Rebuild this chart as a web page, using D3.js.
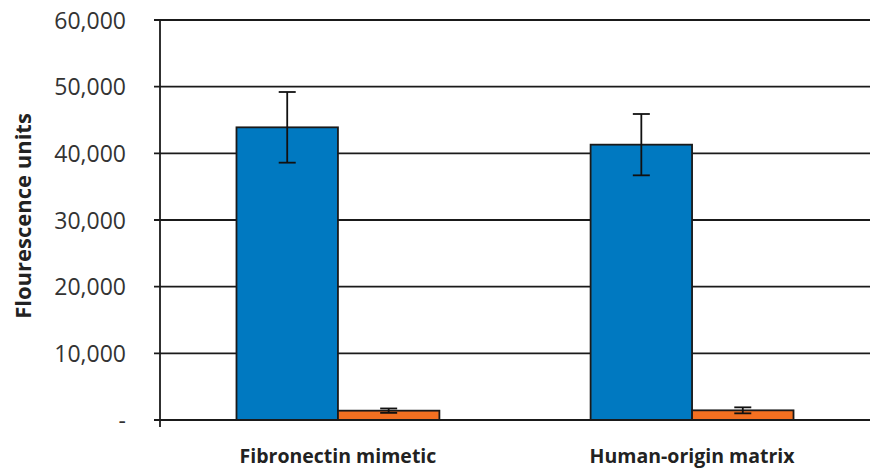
<!DOCTYPE html>
<html>
<head>
<meta charset="utf-8">
<script src="https://cdn.jsdelivr.net/npm/d3@7"></script>
<style>
  body { margin: 0; background: #fff; }
  svg { display: block; }
  svg text { font-family: "Open Sans", sans-serif; }
</style>
</head>
<body>
<div id="chart"></div>
<script>
const categories = ["Fibronectin mimetic", "Human-origin matrix"];
const series = ["blue", "orange"];
const values = {
  blue: [43900, 41300],
  orange: [1400, 1450]
};
const errors = {
  blue: [5300, 4600],
  orange: [330, 450]
};
const yTicks = [0, 10000, 20000, 30000, 40000, 50000, 60000];

const width = 874, height = 468;
const margin = { top: 20, right: 4, bottom: 48, left: 160 };
const colors = { blue: "#0079c1", orange: "#f37021" };

const svg = d3.select("#chart").append("svg")
  .attr("width", width)
  .attr("height", height);

const y = d3.scaleLinear()
  .domain([0, 60000])
  .range([height - margin.bottom, margin.top]);

const x = d3.scaleBand()
  .domain(categories)
  .range([margin.left, 870])
  .paddingInner(0.427)
  .paddingOuter(0.216);

const xs = d3.scaleBand()
  .domain(series)
  .range([0, x.bandwidth()]);

// gridlines
svg.append("g")
  .selectAll("line")
  .data(yTicks)
  .join("line")
  .attr("x1", margin.left - 6)
  .attr("x2", width - 4)
  .attr("y1", d => y(d))
  .attr("y2", d => y(d))
  .attr("stroke", "#1a1a1a")
  .attr("stroke-width", 1.8);

// y axis
const yAxis = svg.append("g")
  .attr("transform", `translate(${margin.left},0)`)
  .call(d3.axisLeft(y).tickValues(yTicks).tickSize(0).tickPadding(34)
    .tickFormat(d => d === 0 ? "-" : d3.format(",")(d)));
yAxis.attr("font-family", null);
yAxis.select(".domain").remove();
yAxis.selectAll("text")
  .attr("font-size", 23)
  .attr("fill", "#333")
  .attr("dy", "0.35em");

svg.append("line")
  .attr("x1", margin.left).attr("x2", margin.left)
  .attr("y1", margin.top).attr("y2", y(0) + 7)
  .attr("stroke", "#1a1a1a")
  .attr("stroke-width", 1.8);

svg.append("text")
  .attr("transform", `translate(31,${(y(0) + y(60000)) / 2 - 4}) rotate(-90)`)
  .attr("text-anchor", "middle")
  .attr("font-size", 22)
  .attr("font-weight", "bold")
  .attr("fill", "#222")
  .text("Flourescence units");

// x labels
svg.append("g")
  .selectAll("text")
  .data(categories)
  .join("text")
  .attr("x", d => x(d) + x.bandwidth() / 2)
  .attr("y", 463)
  .attr("text-anchor", "middle")
  .attr("font-size", 19.5)
  .attr("font-weight", "bold")
  .attr("fill", "#222")
  .text(d => d);

// bars
const bars = [];
series.forEach(s => categories.forEach((c, i) => {
  bars.push({ c, s, v: values[s][i], e: errors[s][i] });
}));

svg.append("g")
  .selectAll("rect")
  .data(bars)
  .join("rect")
  .attr("x", d => x(d.c) + xs(d.s))
  .attr("y", d => y(d.v))
  .attr("width", xs.bandwidth())
  .attr("height", d => y(0) - y(d.v))
  .attr("fill", d => colors[d.s])
  .attr("stroke", "#1a1a1a")
  .attr("stroke-width", 1.8);

// error bars
const eb = svg.append("g")
  .attr("stroke", "#111")
  .attr("stroke-width", 1.8);
const cap = 8.5;
bars.forEach(d => {
  const cx = x(d.c) + xs(d.s) + xs.bandwidth() / 2;
  eb.append("line")
    .attr("x1", cx).attr("x2", cx)
    .attr("y1", y(d.v + d.e)).attr("y2", y(d.v - d.e));
  [d.v + d.e, d.v - d.e].forEach(v => {
    eb.append("line")
      .attr("x1", cx - cap).attr("x2", cx + cap)
      .attr("y1", y(v)).attr("y2", y(v));
  });
});
// redraw baseline on top
svg.append("line")
  .attr("x1", margin.left - 6).attr("x2", width - 4)
  .attr("y1", y(0)).attr("y2", y(0))
  .attr("stroke", "#1a1a1a")
  .attr("stroke-width", 1.8);
</script>
</body>
</html>
